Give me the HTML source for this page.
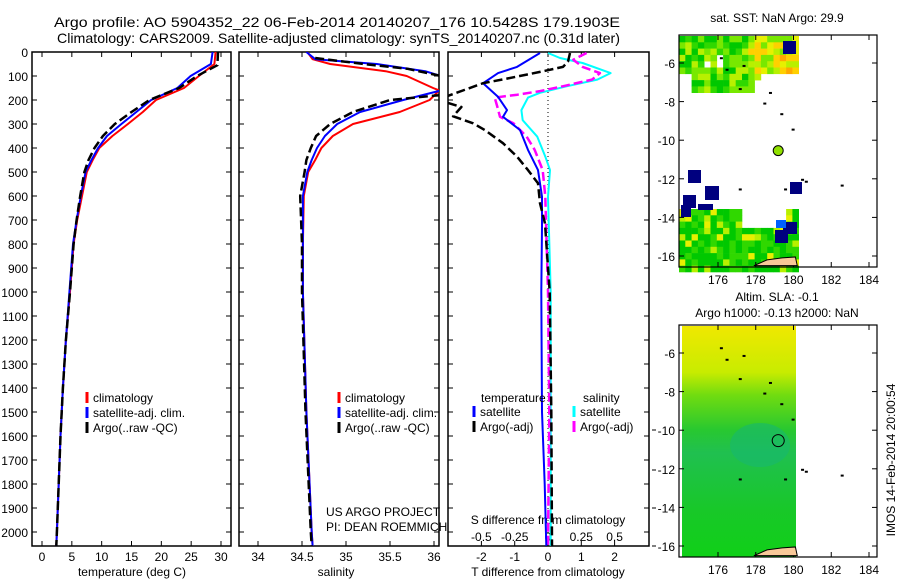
<!DOCTYPE html>
<html><head><meta charset="utf-8">
<style>
html,body{margin:0;padding:0;background:#fff;}
svg{display:block;font-family:"Liberation Sans",sans-serif;}
</style></head>
<body>
<svg id="fig" width="900" height="580" viewBox="0 0 900 580" xmlns="http://www.w3.org/2000/svg">
<text x="54" y="27" font-size="14" textLength="566" lengthAdjust="spacingAndGlyphs">Argo profile: AO 5904352_22 06-Feb-2014 20140207_176 10.5428S 179.1903E</text>
<text x="57" y="43" font-size="14" textLength="563" lengthAdjust="spacingAndGlyphs">Climatology: CARS2009. Satellite-adjusted climatology: synTS_20140207.nc (0.31d later)</text>
<g id="panels"></g>
<g id="maps"></g>
</svg>
<script>
// ---------- data ----------
const depthTicks=[0,100,200,300,400,500,600,700,800,900,1000,1100,1200,1300,1400,1500,1600,1700,1800,1900,2000];
const tTicks=[0,5,10,15,20,25,30];
const sTicks=[34,34.5,35,35.5,36];
const dtTicks=[-2,-1,0,1,2];
const dsTicks=[-0.5,-0.25,0,0.25,0.5];
const dsTickLabels=["-0.5","-0.25","0","0.25","0.5"];
// temperature profiles
const tDepth=[0,50,100,150,200,250,300,350,400,450,500,600,700,800,1000,1200,1400,1600,1800,2000,2058];
const tClim=[29.1,28.9,26.3,23.8,19.1,16.9,14.4,11.8,9.6,8.5,7.5,6.7,5.9,5.3,4.7,4.0,3.5,3.1,2.8,2.5,2.4];
const tSat=[28.6,28.3,24.9,22.7,18.3,15.8,13.3,10.9,9.4,8.3,7.3,6.5,5.8,5.2,4.6,4.0,3.5,3.1,2.8,2.5,2.4];
const tArgoDepth=[0,55,80,100,150,200,250,300,350,400,450,500,600,700,800,1000,1200,1400,1600,1800,2000,2058];
const tArgo=[29.5,29.4,27.5,26.0,23.0,18.0,15.0,12.2,10.2,8.8,7.8,7.1,6.4,5.8,5.3,4.7,4.0,3.5,3.1,2.8,2.5,2.4];
// salinity profiles
const sDepth=[0,30,50,80,100,150,160,200,250,300,350,400,450,500,600,800,1000,1500,2000,2058];
const sClim=[34.56,34.62,34.82,35.45,35.69,35.99,36.06,35.95,35.61,35.08,34.85,34.72,34.65,34.57,34.52,34.51,34.51,34.55,34.61,34.62];
const sSat=[34.55,34.65,35.35,35.9,36.08,36.2,36.08,35.65,35.16,34.9,34.76,34.67,34.61,34.56,34.51,34.51,34.51,34.55,34.61,34.62];
const sArgoDepth=[25,50,70,100,150,180,200,250,300,350,400,450,500,600,800,1000,1500,2000,2058];
const sArgo=[34.65,35.2,35.7,36.08,36.2,36.06,35.5,35.08,34.82,34.66,34.6,34.55,34.53,34.48,34.5,34.5,34.54,34.6,34.61];
// differences from climatology
const dtSatDepth=[4,62,88,130,187,242,270,325,408,492,603,728,1000,1500,1800,2058];
const dtSat=[-0.24,-0.93,-1.5,-1.95,-1.5,-1.23,-1.35,-0.84,-0.6,-0.3,-0.18,-0.18,-0.2,-0.18,-0.1,-0.05];
const dtArgoDepth=[4,40,62,83,110,130,180,200,229,268,297,325,380,436,492,547,630,714,1000,1500,2058];
const dtArgo=[0.66,0.6,0.45,-0.24,-1.2,-1.95,-2.95,-3.3,-2.6,-2.85,-2.25,-1.9,-1.35,-0.93,-0.6,-0.3,-0.24,-0.09,0.05,0.1,0.12];
const dsSatDepth=[4,25,46,88,115,143,170,190,242,284,353,436,492,603,1000,1500,2058];
const dsSat=[0,0.09,0.26,0.47,0.37,0.14,-0.06,-0.15,-0.2,-0.19,-0.08,-0.02,0.015,0,0.02,0.02,0.02];
const dsArgoDepth=[4,32,62,88,115,143,163,178,190,229,270,297,353,408,492,603,1000,1500,2058];
const dsArgo=[0.29,0.19,0.26,0.39,0.33,0.11,-0.06,-0.23,-0.4,-0.38,-0.36,-0.26,-0.16,-0.1,-0.04,-0.02,0,0.01,0];
// maps
const lonTicks=[176,178,180,182,184];
const latTicks=[-6,-8,-10,-12,-14,-16];
const argoLon=179.19, argoLat=-10.54;

// ---------- helpers ----------
const NS="http://www.w3.org/2000/svg";
function mk(tag,attrs,parent){const e=document.createElementNS(NS,tag);for(const k in attrs)e.setAttribute(k,attrs[k]);(parent||G).appendChild(e);return e;}
const G=document.getElementById('panels');
const M=document.getElementById('maps');
const yTop=52,yBot=546;
const yD=d=>yTop+d*0.24;
function lin(d0,d1,r0,r1){return v=>r0+(v-d0)*(r1-r0)/(d1-d0);}

function panel(x0,x1,name){
  const b=mk('rect',{x:x0,y:yTop,width:x1-x0,height:yBot-yTop,fill:'none',stroke:'#000','stroke-width':1.5});
  
  
  depthTicks.forEach(d=>{
    const y=yD(d);
    mk('line',{x1:x0,x2:x0+5,y1:y,y2:y,stroke:'#000'});
    mk('line',{x1:x1-5,x2:x1,y1:y,y2:y,stroke:'#000'});
  });
}
function clipFor(x0,x1,id){
  const defs=mk('defs',{});const cp=mk('clipPath',{id:id},defs);mk('rect',{x:x0,y:yTop,width:x1-x0,height:yBot-yTop},cp);
}
function line(xs,ds,sx,color,dash,name,clip,w){
  const pts=xs.map((v,i)=>sx(v).toFixed(1)+','+yD(ds[i]).toFixed(1)).join(' ');
  const p=mk('polyline',{points:pts,fill:'none',stroke:color,'stroke-width':w||2,'clip-path':'url(#'+clip+')','stroke-linejoin':'round'});
  if(dash)p.setAttribute('stroke-dasharray',dash);
  
  
}
function legend(x,y,items,prefix){
  items.forEach((it,i)=>{
    const yy=y+i*15;
    mk('line',{x1:x,x2:x,y1:yy-6,y2:yy+5,stroke:it[1],'stroke-width':3});
    const t=mk('text',{x:x+6,y:yy+4,'font-size':12});t.textContent=it[0];
    
    
  });
}
function txt(x,y,s,size,anchor,name){const t=mk('text',{x:x,y:y,'font-size':size,'text-anchor':anchor||'start'});t.textContent=s;
  
  
  return t;}

// ---------- panel 1: temperature ----------
const P1=[32,231];const xT=lin(0,30,42,221);
clipFor(P1[0],P1[1],'c1');
panel(P1[0],P1[1],'temperature-panel');
depthTicks.forEach(d=>{txt(28,yD(d)+5,String(d),12,'end','depth-tick-label');});
tTicks.forEach(v=>{const x=xT(v);mk('line',{x1:x,x2:x,y1:yBot,y2:yBot-5,stroke:'#000'});mk('line',{x1:x,x2:x,y1:yTop,y2:yTop+5,stroke:'#000'});txt(x,561,String(v),12,'middle','temperature-tick-label');});
txt(132,576,'temperature (deg C)',12,'middle','temperature-axis-title');
line(tClim,tDepth,xT,'#f00',null,'temperature-climatology-line','c1');
line(tSat,tDepth,xT,'#00f',null,'temperature-satellite-line','c1');
line(tArgo,tArgoDepth,xT,'#000','9,4','temperature-argo-line','c1',2.5);
legend(87,398,[['climatology','#f00'],['satellite-adj. clim.','#00f'],['Argo(..raw -QC)','#000']],'temperature');

// ---------- panel 2: salinity ----------
const P2=[239,439];const xS=lin(34,36,258,434);
clipFor(P2[0],P2[1],'c2');
panel(P2[0],P2[1],'salinity-panel');
sTicks.forEach(v=>{const x=xS(v);mk('line',{x1:x,x2:x,y1:yBot,y2:yBot-5,stroke:'#000'});mk('line',{x1:x,x2:x,y1:yTop,y2:yTop+5,stroke:'#000'});txt(x,561,String(v),12,'middle','salinity-tick-label');});
txt(336,576,'salinity',12,'middle','salinity-axis-title');
line(sClim,sDepth,xS,'#f00',null,'salinity-climatology-line','c2');
line(sSat,sDepth,xS,'#00f',null,'salinity-satellite-line','c2');
line(sArgo,sArgoDepth,xS,'#000','9,4','salinity-argo-line','c2',2.5);
legend(339,398,[['climatology','#f00'],['satellite-adj. clim.','#00f'],['Argo(..raw -QC)','#000']],'salinity');
txt(326,516,'US ARGO PROJECT',12,'start','project-label');
txt(326,531,'PI: DEAN ROEMMICH',12,'start','pi-label');

// ---------- panel 3: differences ----------
const P3=[448,649];const xDT=lin(0,1,548,581.3);const xDS=lin(0,0.25,548,581.3);
clipFor(P3[0],P3[1],'c3');
panel(P3[0],P3[1],'difference-panel');
for(let y=yTop;y<yBot;y+=4)mk('line',{x1:548,x2:548,y1:y,y2:y+1,stroke:'#000','stroke-width':1});
dtTicks.forEach(v=>{const x=xDT(v);mk('line',{x1:x,x2:x,y1:yBot,y2:yBot-5,stroke:'#000'});mk('line',{x1:x,x2:x,y1:yTop,y2:yTop+5,stroke:'#000'});txt(x,561,String(v),12,'middle','t-diff-tick-label');});
dsTicks.forEach((v,i)=>{txt(xDS(v),541,dsTickLabels[i],12,'middle','s-diff-tick-label');});
txt(548,524,'S difference from climatology',12,'middle','s-diff-axis-title');
txt(548,576,'T difference from climatology',12,'middle','t-diff-axis-title');
line(dsSat,dsSatDepth,xDS,'#0ff',null,'salinity-satellite-diff-line','c3');
line(dsArgo,dsArgoDepth,xDS,'#f0f','9,4','salinity-argo-diff-line','c3',2.5);
line(dtSat,dtSatDepth,xDT,'#00f',null,'temperature-satellite-diff-line','c3');
line(dtArgo,dtArgoDepth,xDT,'#000','9,4','temperature-argo-diff-line','c3',2.5);
txt(481,402,'temperature',12,'start','temperature-legend-header');
txt(583,402,'salinity',12,'start','salinity-legend-header');
legend(474,412,[['satellite','#00f'],['Argo(-adj)','#000']],'t-diff');
legend(574,412,[['satellite','#0ff'],['Argo(-adj)','#f0f']],'s-diff');
[430,470,508,546].forEach(y=>mk('line',{x1:652,x2:656,y1:y,y2:y,stroke:'#000'}));

// ---------- maps ----------
const mx0=679,mx1=877;
const xL=lin(176,184,718,869);
function mapFrame(y0,y1,latY,name){
  const r=mk('rect',{x:mx0,y:y0,width:mx1-mx0,height:y1-y0,fill:'none',stroke:'#000','stroke-width':1.2},M);
  
  
  lonTicks.forEach(v=>{const x=xL(v);mk('line',{x1:x,x2:x,y1:y0,y2:y0+5,stroke:'#000'},M);mk('line',{x1:x,x2:x,y1:y1,y2:y1-5,stroke:'#000'},M);
    const t=mk('text',{x:x,y:y1+17,'font-size':12,'text-anchor':'middle'},M);t.textContent=String(v);
    
    });
  latTicks.forEach(v=>{const y=latY(v);mk('line',{x1:mx0,x2:mx0+5,y1:y,y2:y,stroke:'#000'},M);mk('line',{x1:mx1-5,x2:mx1,y1:y,y2:y,stroke:'#000'},M);
    const t=mk('text',{x:675,y:y+5,'font-size':12,'text-anchor':'end'},M);t.textContent=String(v);
    
    });
}
function islands(latY){
  [[177.1,-7.3],[178.7,-7.5],[178.4,-8.05],[179.3,-8.6],[179.9,-9.4],[180.4,-12.0],[180.6,-12.1],[182.5,-12.3],[177.1,-12.5],[179.5,-12.5],[176.1,-5.7],[176.4,-6.3],[177.3,-6.1]].forEach(p=>{
    mk('rect',{x:xL(p[0]),y:latY(p[1]),width:3,height:2,fill:'#000'},M);});
  mk('path',{d:`M${xL(177.9)},${latY(-16.5)} L${xL(178.6)},${latY(-16.2)} L${xL(179.4)},${latY(-16.1)} L${xL(180.1)},${latY(-16.05)} L${xL(180.2)},${latY(-16.5)} Z`,fill:'#f8c898',stroke:'#000','stroke-width':1},M);
}
// top map (SST)
const latY1=lin(-6,-16,63,256);
function hash(i,j){let h=(i*73856093)^(j*19349663);h=(h^(h>>>13))*1274126177;return ((h^(h>>>16))>>>0)/4294967295;}
const sstCols=['#00c800','#30d800','#78e800','#b8f000','#e8f000','#ffd000','#ffa800'];
const cell=6.3;
for(let i=0;i<19;i++)for(let j=0;j<9;j++){
  const x=mx0+i*cell,y=36+j*cell; if(x>796)continue;
  if(j>5&&(i<2||i>12))continue; if(j>6&&i>11) continue; if(j>=3&&j<=4&&i>=4&&i<=6&&hash(i,j)<0.6)continue;
  let k=Math.floor(hash(i,j)*4)+(i>10?2:0)+(i>14&&j>2?1:0); k=Math.min(k,6);
  mk('rect',{x:x,y:y,width:cell+0.3,height:cell+0.3,fill:sstCols[k]},M);
}
for(let i=0;i<19;i++)for(let j=0;j<10;j++){
  const x=mx0+i*cell,y=209+j*cell; if(x>796)continue;
  if(j<3&&i>9&&i<17)continue;
  const h=hash(i+40,j+7);
  const k=h<0.55?0:h<0.8?1:h<0.92?3:4;
  mk('rect',{x:x,y:y,width:cell+0.3,height:cell+0.3,fill:sstCols[k]},M);
}
[[783,41,13,13],[790,182,12,12],[683,195,13,13],[688,170,13,13],[681,205,10,12],[705,186,14,14],[698,204,15,6],[775,230,13,13],[783,222,14,12]].forEach(r=>mk('rect',{x:r[0],y:r[1],width:r[2],height:r[3],fill:'#00007f'},M));
mk('rect',{x:776,y:220,width:10,height:8,fill:'#0060ff'},M);
mapFrame(35,267,latY1,'sst-map');
islands(latY1);
const ac=mk('circle',{cx:xL(argoLon),cy:latY1(argoLat),r:5,fill:'#90e000',stroke:'#000','stroke-width':1},M);


{const t=mk('text',{x:777,y:22,'font-size':12,'text-anchor':'middle'},M);t.textContent='sat. SST: NaN Argo: 29.9';}

// bottom map (SLA)
const latY2=lin(-6,-16,353,546);
const defs=mk('defs',{},M);
const gr=mk('linearGradient',{id:'sla',x1:0,y1:0,x2:0,y2:1},defs);
[[0,'#f0e800'],[0.2,'#c8ec00'],[0.3,'#70dc10'],[0.45,'#28c830'],[0.55,'#20c050'],[0.8,'#18c828'],[1,'#10d018']].forEach(s=>mk('stop',{offset:s[0],'stop-color':s[1]},gr));
mk('rect',{x:682,y:326,width:114,height:231,fill:'url(#sla)'},M);
mk('ellipse',{cx:760,cy:445,rx:30,ry:22,fill:'#18b870',opacity:0.6},M);
mapFrame(325,557,latY2,'sla-map');
islands(latY2);
const ac2=mk('circle',{cx:xL(argoLon),cy:latY2(argoLat),r:6,fill:'none',stroke:'#000','stroke-width':1},M);


{const t=mk('text',{x:777,y:301,'font-size':12,'text-anchor':'middle'},M);t.textContent='Altim. SLA: -0.1';}
{const t=mk('text',{x:777,y:317,'font-size':12,'text-anchor':'middle'},M);t.textContent='Argo h1000: -0.13 h2000: NaN';}
{const t=mk('text',{x:0,y:0,'font-size':12,'text-anchor':'middle',transform:'translate(895,460) rotate(-90)'},M);t.textContent='IMOS 14-Feb-2014 20:00:54';}
</script>
</body></html>
